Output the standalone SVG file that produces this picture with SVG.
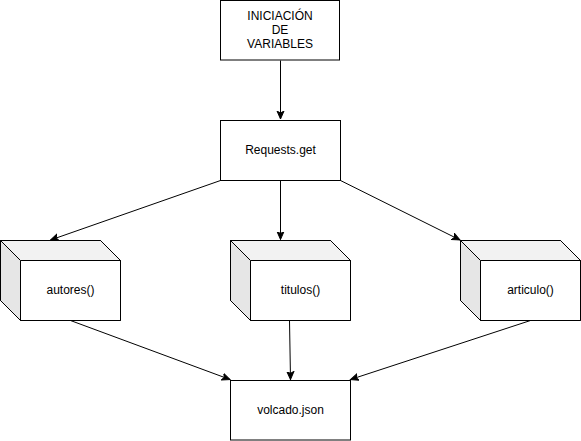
<svg xmlns="http://www.w3.org/2000/svg" width="581" height="441" viewBox="0 0 581 441">
<style>
  .box { fill: #ffffff; stroke: #000000; stroke-width: 1; }
  .top { fill: #f2f2f2; stroke: none; }
  .side { fill: #e6e6e6; stroke: none; }
  .edge { fill: none; stroke: #000000; stroke-width: 1; }
  .lbl { font-family: "Liberation Sans", Arial, sans-serif; font-size: 12px; fill: #000000; text-anchor: middle; }
</style>
<defs>
  <marker id="arrow" markerUnits="userSpaceOnUse" markerWidth="10" markerHeight="10" viewBox="0 0 10 10" refX="8" refY="5" orient="auto">
    <path d="M0,1.5 L8,5 L0,8.5 L2,5 Z" fill="#000000" stroke="#000000" stroke-width="1"/>
  </marker>
  <g id="cube">
    <path class="box" d="M0,0 L100,0 L120,20 L120,80 L20,80 L0,60 Z"/>
    <path class="top" d="M0.5,0.5 L99.8,0.5 L119.3,20 L20,20 Z"/>
    <path class="side" d="M0.5,0.5 L20,20 L20,79.5 L0.5,60 Z"/>
    <path class="edge" d="M0,0 L100,0 L120,20 L120,80 L20,80 L0,60 Z M0,0 L20,20 L120,20 M20,20 L20,80"/>
  </g>
</defs>
<g id="connectors">
  <path class="edge" d="M280.5,60.5 L280.5,119" marker-end="url(#arrow)"/>
  <path class="edge" d="M220.5,180.5 L50.5,240" marker-end="url(#arrow)"/>
  <path class="edge" d="M280.5,180.5 L280.5,239.5" marker-end="url(#arrow)"/>
  <path class="edge" d="M340.5,180.5 L460,240" marker-end="url(#arrow)"/>
  <path class="edge" d="M70.5,320.5 L230,379.5" marker-end="url(#arrow)"/>
  <path class="edge" d="M289.5,320.5 L290.5,379.5" marker-end="url(#arrow)"/>
  <path class="edge" d="M530.5,320.5 L350.5,379.5" marker-end="url(#arrow)"/>
</g>
<g id="node-iniciacion">
  <rect class="box" x="220.5" y="0.5" width="119" height="59.5"/>
  <text class="lbl" x="280" y="20">INICIACIÓN</text>
  <text class="lbl" x="280" y="34">DE</text>
  <text class="lbl" x="280" y="48">VARIABLES</text>
</g>
<g id="node-requests">
  <rect class="box" x="220.5" y="120.5" width="120" height="60"/>
  <text class="lbl" x="280.5" y="154">Requests.get</text>
</g>
<g id="node-autores">
  <use href="#cube" x="0.5" y="240.5"/>
  <text class="lbl" x="70.5" y="294">autores()</text>
</g>
<g id="node-titulos">
  <use href="#cube" x="230.5" y="240.5"/>
  <text class="lbl" x="300.5" y="294">titulos()</text>
</g>
<g id="node-articulo">
  <use href="#cube" x="460.5" y="240.5"/>
  <text class="lbl" x="530.5" y="294">articulo()</text>
</g>
<g id="node-volcado">
  <rect class="box" x="230.5" y="380.5" width="120" height="59.5"/>
  <text class="lbl" x="290.5" y="414">volcado.json</text>
</g>
</svg>
